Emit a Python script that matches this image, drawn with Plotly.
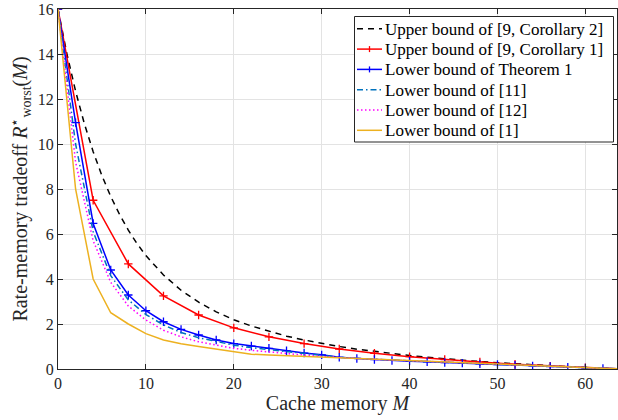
import plotly.graph_objects as go

# ---------------- data ----------------
M_black = [0, 1, 2, 3, 4, 5, 6, 7, 8, 9, 10, 12, 14, 16, 18, 20, 22, 24, 26, 28, 30,
           32, 34, 36, 38, 40, 42, 44, 46, 48, 50, 52, 54, 56, 58, 60, 62, 64]
ub_cor2 = [16, 14.03, 12.35, 10.90, 9.66, 8.59, 7.67, 6.87, 6.17, 5.57, 5.04, 4.18, 3.50,
           2.97, 2.54, 2.19, 1.91, 1.67, 1.46, 1.29, 1.13, 1.00, 0.88, 0.78, 0.68, 0.60,
           0.52, 0.45, 0.39, 0.33, 0.28, 0.23, 0.19, 0.14, 0.10, 0.07, 0.03, 0]

M_red = [0, 4, 8, 12, 16, 20, 24, 28, 32, 36, 40, 44, 48, 52, 56, 60, 64]
ub_cor1 = [16, 7.5, 4.67, 3.25, 2.4, 1.83, 1.43, 1.13, 0.89, 0.70, 0.55, 0.42, 0.31,
           0.21, 0.13, 0.06, 0]

M_even = [0, 2, 4, 6, 8, 10, 12, 14, 16, 18, 20, 22, 24, 26, 28, 30, 32, 34, 36, 38, 40,
          42, 44, 46, 48, 50, 52, 54, 56, 58, 60, 62, 64]
lb_thm1 = [16, 10.95, 6.47, 4.40, 3.29, 2.59, 2.10, 1.76, 1.51, 1.29, 1.13, 1.02, 0.92,
           0.81, 0.71, 0.63, 0.52, 0.47, 0.42, 0.38, 0.35, 0.32, 0.29, 0.26, 0.23, 0.20,
           0.17, 0.14, 0.11, 0.08, 0.05, 0.025, 0]
lb_11 = [16, 10.0, 6.1, 4.15, 3.07, 2.42, 1.96, 1.62, 1.39, 1.21, 1.06, 0.95, 0.86, 0.77,
         0.69, 0.61, 0.52, 0.47, 0.43, 0.39, 0.36, 0.33, 0.30, 0.27, 0.24, 0.21, 0.18,
         0.15, 0.12, 0.09, 0.06, 0.03, 0]
lb_12 = [16, 9.2, 5.7, 3.85, 2.8, 2.18, 1.72, 1.43, 1.21, 1.05, 0.92, 0.83, 0.75, 0.68,
         0.62, 0.56, 0.50, 0.47, 0.43, 0.40, 0.37, 0.34, 0.31, 0.28, 0.25, 0.22, 0.19,
         0.16, 0.125, 0.094, 0.063, 0.031, 0]
lb_1 = [16, 8, 4, 2.5, 2.0, 1.571, 1.286, 1.125, 1.0, 0.875, 0.75, 0.656, 0.625, 0.594,
        0.5625, 0.531, 0.5, 0.469, 0.4375, 0.406, 0.375, 0.344, 0.3125, 0.281, 0.25,
        0.219, 0.1875, 0.156, 0.125, 0.094, 0.0625, 0.031, 0]

names = ["Upper bound of [9, Corollary 2]", "Upper bound of [9, Corollary 1]",
         "Lower bound of Theorem 1", "Lower bound of [11]", "Lower bound of [12]",
         "Lower bound of [1]"]
colors = ["black", "#ff0000", "#0000ff", "#0072BD", "#ff00ff", "#EDB120"]
dashes = ["6px,5px", "solid", "solid", "6px,3px,1.5px,3px", "1.5px,2.5px", "solid"]
has_marker = [False, True, True, False, False, False]

x_ticks = [0, 10, 20, 30, 40, 50, 60]
y_ticks = [0, 2, 4, 6, 8, 10, 12, 14, 16]

FONT = "Liberation Serif"
LW = 1.5

fig = go.Figure()
series = [(M_black, ub_cor2), (M_red, ub_cor1), (M_even, lb_thm1),
          (M_even, lb_11), (M_even, lb_12), (M_even, lb_1)]
for i, (xs, ys) in enumerate(series):
    kw = dict(x=xs, y=ys, name=names[i], showlegend=False,
              line=dict(color=colors[i], width=LW, dash=dashes[i]))
    if has_marker[i]:
        kw["mode"] = "lines+markers"
        kw["marker"] = dict(symbol="cross-thin-open", size=6,
                            line=dict(color=colors[i], width=1.3))
    else:
        kw["mode"] = "lines"
    fig.add_trace(go.Scatter(**kw))

# ---------------- hand-built legend box (MATLAB style) ----------------
W, H = 618, 420
ML, MR, MT, MB = 58, 1, 9, 51
PW, PH = W - ML - MR, H - MT - MB


def px(xp):
    return (xp - ML) / PW


def py(yp):
    return (H - MB - yp) / PH


shapes = [dict(type="rect", xref="paper", yref="paper",
               x0=px(354.5), x1=px(613.5), y0=py(142), y1=py(16.5),
               fillcolor="white", line=dict(color="#262626", width=1), layer="above")]
annotations = []
row0, row_gap = 28.8, 20.3
for i, nm in enumerate(names):
    yc = row0 + i * row_gap
    shapes.append(dict(type="line", xref="paper", yref="paper",
                       x0=px(357), x1=px(382), y0=py(yc), y1=py(yc),
                       line=dict(color=colors[i], width=LW, dash=dashes[i]), layer="above"))
    if has_marker[i]:
        shapes.append(dict(type="line", xref="paper", yref="paper",
                           x0=px(369.5), x1=px(369.5), y0=py(yc - 3), y1=py(yc + 3),
                           line=dict(color=colors[i], width=1.3), layer="above"))
    annotations.append(dict(xref="paper", yref="paper", x=px(383), y=py(yc + 0.5),
                            xanchor="left", yanchor="middle", showarrow=False, text=nm,
                            font=dict(family=FONT, size=17, color="black")))

axis_common = dict(showline=True, linecolor="#262626", linewidth=1, mirror="ticks",
                   ticks="inside", ticklen=5, tickcolor="#262626", tickwidth=1,
                   showgrid=True, gridcolor="#e3e3e3", gridwidth=1, zeroline=False,
                   tickfont=dict(family=FONT, size=16, color="#262626"))

fig.update_layout(
    width=W, height=H,
    margin=dict(l=ML, r=MR, t=MT, b=MB),
    paper_bgcolor="white", plot_bgcolor="white",
    font=dict(family=FONT, color="#262626"),
    showlegend=False,
    shapes=shapes,
    annotations=annotations,
    xaxis=dict(range=[0, 63.6], tickvals=x_ticks, **axis_common,
               title=dict(text="Cache memory <i>M</i>", standoff=2,
                          font=dict(family=FONT, size=20, color="#262626"))),
    yaxis=dict(range=[0, 16], tickvals=y_ticks, **axis_common,
               title=dict(text="Rate-memory tradeoff <i>R</i><sup>⋆</sup><sub>worst</sub>(<i>M</i>)",
                          standoff=4,
                          font=dict(family=FONT, size=20, color="#262626"))),
)

fig.write_html("out.html")
